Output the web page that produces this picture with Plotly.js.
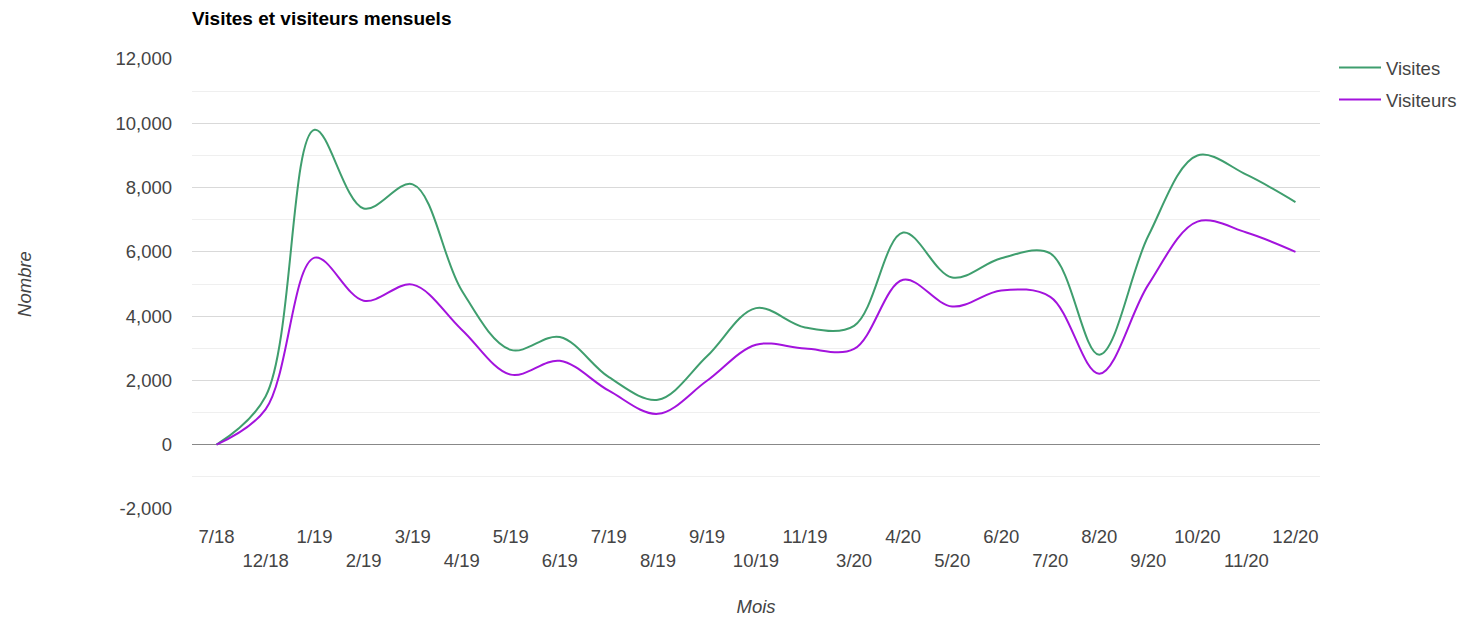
<!DOCTYPE html>
<html>
<head>
<meta charset="utf-8">
<script src="https://cdn.plot.ly/plotly-3.0.1.min.js"></script>
<style>
html,body{margin:0;padding:0;background:#fff;}
#chart{width:1463px;height:617px;}
</style>
</head>
<body>
<div id="chart"></div>
<script>
const months = ["7/18","12/18","1/19","2/19","3/19","4/19","5/19","6/19","7/19","8/19","9/19","10/19","11/19","3/20","4/20","5/20","6/20","7/20","8/20","9/20","10/20","11/20","12/20"];
const visites = [0,1500,9800,7350,8100,4800,2950,3350,2100,1400,2750,4250,3650,3700,6600,5200,5800,5950,2800,6500,9000,8400,7550];
const visiteurs = [0,1100,5820,4480,4980,3580,2180,2610,1680,960,1990,3110,2990,2980,5130,4300,4800,4600,2210,4980,6940,6600,6000];
const yTicks = [-2000,0,2000,4000,6000,8000,10000,12000];
const yTickText = ["-2,000","0","2,000","4,000","6,000","8,000","10,000","12,000"];

const idx = months.map((m,i)=>i);
const tickText = months.map((m,i)=> i%2===0 ? m : "<br>"+m);

const font = "Liberation Sans, Arial, sans-serif";
const fs = 18.5;
const traces = [
  {x: idx, y: visites, name: "Visites", type: "scatter", mode: "lines", legendgroup: "a",
   line: {color: "#3f9e6e", width: 2, shape: "spline", smoothing: 1}, hoverinfo: "y"},
  {x: idx, y: visiteurs, name: "Visiteurs", type: "scatter", mode: "lines", legendgroup: "b",
   line: {color: "#a313dd", width: 2, shape: "spline", smoothing: 1}, hoverinfo: "y"}
];
const layout = {
  width: 1463, height: 617,
  margin: {l: 192, r: 143, t: 59, b: 108, autoexpand: false},
  paper_bgcolor: "#fff", plot_bgcolor: "#fff",
  font: {family: font, size: fs, color: "#444"},
  title: {text: "<b>Visites et visiteurs mensuels</b>", x: 192/1463, xanchor: "left", xref: "container",
          y: 1 - 18/617, yanchor: "middle", yref: "container", font: {family: font, size: 19, color: "#000"}},
  xaxis: {
    range: [-0.5, 22.5], tickmode: "array", tickvals: idx, ticktext: tickText,
    showgrid: false, zeroline: false, showline: false, ticks: "", ticklabelstandoff: 14,
    tickfont: {family: font, size: fs, color: "#444"},
    title: {text: "<i>Mois</i>", font: {family: font, size: fs, color: "#444"}, standoff: 41}
  },
  yaxis: {
    range: [-2000, 12000], tickmode: "array", tickvals: yTicks, ticktext: yTickText,
    showgrid: true, gridcolor: "#d9d9d9", gridwidth: 1,
    minor: {dtick: 1000, showgrid: true, gridcolor: "#efefef", gridwidth: 1},
    zeroline: true, zerolinecolor: "#888", zerolinewidth: 1.5,
    showline: false, ticks: "", ticklabelstandoff: 19,
    tickfont: {family: font, size: fs, color: "#444"},
    title: {text: "<i>Nombre</i>", font: {family: font, size: fs, color: "#444"}, standoff: 78}
  },
  legend: {x: (1334-192)/1128, xref: "paper", xanchor: "left", y: 1 + 10/450, yanchor: "top",
           traceorder: "grouped", tracegroupgap: 5, itemwidth: 42,
           font: {family: font, size: fs, color: "#444"}},
  showlegend: true
};
Plotly.newPlot("chart", traces, layout, {displayModeBar: false, staticPlot: true});
</script>
</body>
</html>
